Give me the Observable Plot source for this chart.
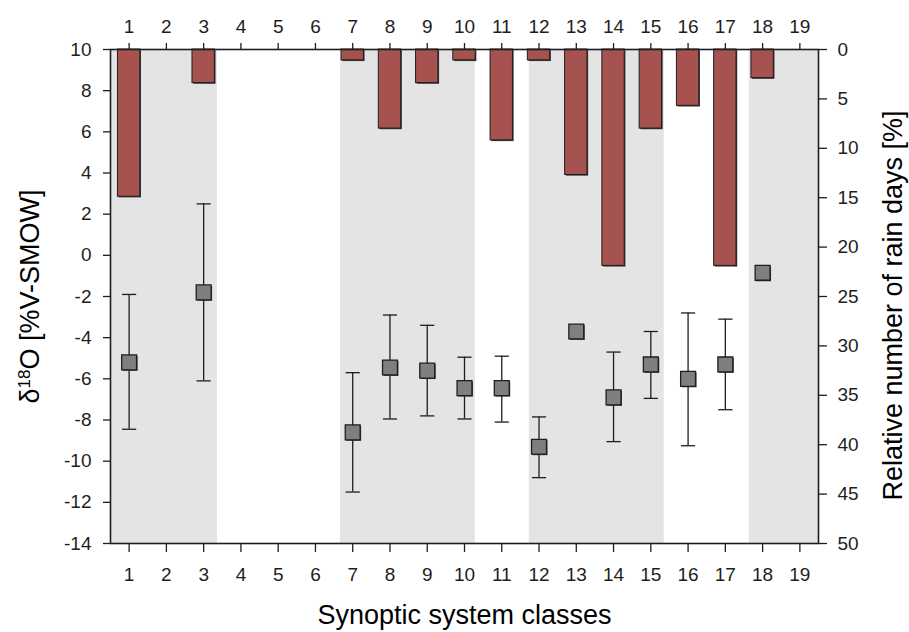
<!DOCTYPE html>
<html>
<head>
<meta charset="utf-8">
<script src="https://cdn.jsdelivr.net/npm/d3@7"></script>
<script src="https://cdn.jsdelivr.net/npm/@observablehq/plot@0.6"></script>
<style>
  html, body { margin: 0; padding: 0; background: #fff; }
  #chart { width: 909px; height: 632px; }
</style>
</head>
<body>
<div id="chart"></div>
<script>
// Synoptic system classes on the x axis
const classTicks = d3.range(1, 20);

// Relative number of rain days per class [%] (right axis, bars hanging from the top)
const barClasses = [1, 3, 7, 8, 9, 10, 11, 12, 13, 14, 15, 16, 17, 18];
const rainDaysPct = [14.9, 3.4, 1.1, 8.0, 3.4, 1.1, 9.2, 1.1, 12.7, 21.9, 8.0, 5.7, 21.9, 2.9];

// Mean δ18O per class with its spread (left axis)
const isoClasses = [1, 3, 7, 8, 9, 10, 11, 12, 13, 14, 15, 16, 17, 18];
const d18O      = [-5.2, -1.8, -8.6, -5.45, -5.6, -6.45, -6.45, -9.3, -3.7, -6.9, -5.3, -6.0, -5.3, -0.85];
const d18OHigh  = [-1.9, 2.5, -5.7, -2.9, -3.4, -4.95, -4.9, -7.85, null, -4.7, -3.7, -2.8, -3.1, null];
const d18OLow   = [-8.45, -6.1, -11.5, -7.95, -7.8, -7.95, -8.1, -10.8, null, -9.05, -6.95, -9.25, -7.5, null];

// Grey background groups of classes
const bandStart = [0.5, 6.67, 11.74, 17.64];
const bandEnd   = [3.37, 10.29, 15.36, 19.5];

// Axis ticks
const leftTicks = d3.range(-14, 11, 2);
const rightTicks = d3.range(0, 51, 5);

// The right axis (0–50 %, downward) shares the plot with the left axis (10 … −14 ‰)
const yTop = 10, yBottom = -14, pctMax = 50;
const pctToY = p => yTop - p * (yTop - yBottom) / pctMax;

const bars = barClasses.map((c, i) => ({cls: c, pct: rainDaysPct[i]}));
const iso = isoClasses.map((c, i) => ({cls: c, v: d18O[i], hi: d18OHigh[i], lo: d18OLow[i]}));
const errs = iso.filter(d => d.hi != null);
const bands = bandStart.map((s, i) => ({x1: s, x2: bandEnd[i]}));

const barHalf = 0.3;
const capHalf = 0.19;
const ink = "#1e1e1e";
const font = "Liberation Sans, Arial, sans-serif";

const chart = Plot.plot({
  width: 909,
  height: 632,
  marginLeft: 110,
  marginRight: 91,
  marginTop: 49,
  marginBottom: 89,
  style: {fontFamily: font, fontSize: "19px", color: ink, background: "#fff"},
  x: {domain: [0.5, 19.5]},
  y: {domain: [yBottom, yTop]},
  marks: [
    Plot.rect(bands, {x1: "x1", x2: "x2", y1: yBottom, y2: yTop, fill: "#e4e4e4"}),
    // bars with a faint drop shadow
    Plot.rect(bars, {x1: d => d.cls - barHalf, x2: d => d.cls + barHalf, y1: yTop, y2: d => pctToY(d.pct),
      fill: "#3a3a3a", dx: 1.2, dy: 1.2}),
    Plot.rect(bars, {x1: d => d.cls - barHalf, x2: d => d.cls + barHalf, y1: yTop, y2: d => pctToY(d.pct),
      fill: "#a65350", stroke: ink, strokeWidth: 1}),
    // error bars
    Plot.ruleX(errs, {x: "cls", y1: "lo", y2: "hi", stroke: ink, strokeWidth: 1.3}),
    Plot.link(errs, {x1: d => d.cls - capHalf, x2: d => d.cls + capHalf, y1: "hi", y2: "hi", stroke: ink, strokeWidth: 1.3}),
    Plot.link(errs, {x1: d => d.cls - capHalf, x2: d => d.cls + capHalf, y1: "lo", y2: "lo", stroke: ink, strokeWidth: 1.3}),
    // mean values
    Plot.dot(iso, {x: "cls", y: "v", symbol: "square", r: 8.4, fill: "#3a3a3a", dx: 1, dy: 1}),
    Plot.dot(iso, {x: "cls", y: "v", symbol: "square", r: 8.4, fill: "#7f7f7f", stroke: ink, strokeWidth: 1.3}),
    // axes
    Plot.axisX({anchor: "bottom", ticks: classTicks, tickSize: 9, tickPadding: 15, label: null,
      tickFormat: d => String(d), stroke: ink, strokeWidth: 1.3}),
    Plot.axisX({anchor: "top", ticks: classTicks, tickSize: 7, tickPadding: 10, label: null,
      tickFormat: d => String(d), stroke: ink, strokeWidth: 1.3}),
    Plot.axisY({anchor: "left", ticks: leftTicks, tickSize: 7, tickPadding: 12, label: null,
      tickFormat: d => String(d), stroke: ink, strokeWidth: 1.3}),
    Plot.axisY({anchor: "right", ticks: rightTicks.map(pctToY), tickSize: 8, tickPadding: 11, label: null,
      tickFormat: d => String(Math.round((yTop - d) * pctMax / (yTop - yBottom))), stroke: ink, strokeWidth: 1.3}),
    Plot.frame({stroke: ink, strokeWidth: 1.6}),
    // axis titles
    Plot.text(["Synoptic system classes"], {frameAnchor: "bottom", dy: 72, lineAnchor: "middle", textAnchor: "middle",
      fontSize: 27, fill: "#000", className: "title-x"}),
    Plot.text(["δ18O [%V-SMOW]"], {frameAnchor: "left", dx: -80, dy: 0, rotate: -90, lineAnchor: "middle", textAnchor: "middle",
      fontSize: 27, fill: "#000", className: "title-left"}),
    Plot.text(["Relative number of rain days [%]"], {frameAnchor: "right", dx: 75, dy: 9, rotate: -90, lineAnchor: "middle", textAnchor: "middle",
      fontSize: 27, fill: "#000", className: "title-right"})
  ]
});

document.getElementById("chart").appendChild(chart);

// Superscript mass number in the δ18O title
d3.select(chart).selectAll(".title-left text").each(function () {
  const t = d3.select(this);
  t.text(null);
  t.append("tspan").text("δ");
  t.append("tspan").attr("font-size", "17px").attr("baseline-shift", "super").text("18");
  t.append("tspan").text("O [%V-SMOW]");
});
</script>
</body>
</html>
